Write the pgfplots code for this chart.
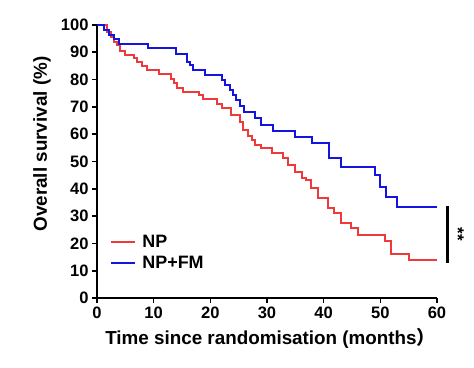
\documentclass[border=0pt]{standalone}
\usepackage{fontspec}
\setmainfont{Liberation Sans}
\newfontfamily\cjk{Noto Sans CJK SC}
\usepackage{pgfplots}
\pgfplotsset{compat=1.18}
\usepackage{pgfplotstable}
\definecolor{npred}{RGB}{238,58,58}
\definecolor{npblue}{RGB}{20,20,225}

\pgfplotstableread{
t s
0 100
1.7 97.6
2.4 95.7
3.0 93.9
3.6 92.5
4.1 90.5
5.0 89.0
6.5 88.0
7.1 86.6
8.0 84.8
8.9 83.5
10.9 82.2
13.0 80.4
13.5 78.6
14.2 76.8
15.1 75.6
18.0 74.4
18.7 72.8
21.1 71.2
22.0 69.5
23.7 67.0
25.2 64.3
25.8 61.5
26.7 59.3
27.3 57.9
27.9 56.1
28.9 54.8
30.8 53.2
32.8 51.2
33.7 48.7
34.9 46.3
36.1 44.0
36.8 43.3
37.8 40.2
39.0 36.6
40.7 33.0
41.8 31.0
43.0 27.4
44.8 25.6
46.0 23.0
50.9 21.0
51.9 16.0
55.0 13.8
60.0 13.8
}\npdata

\pgfplotstableread{
t s
0 100
1.2 98.2
2.1 96.5
3.0 94.8
3.9 93.1
9.0 91.4
14.0 89.2
15.8 86.5
16.4 85.3
17.0 83.5
19.0 81.6
22.0 79.8
22.6 78.0
23.4 76.2
24.0 74.4
24.6 72.5
25.2 70.2
26.0 68.2
27.9 65.8
28.9 63.4
31.0 61.0
35.0 59.1
38.0 56.6
41.0 51.2
43.0 48.1
49.0 45.0
49.9 40.8
51.0 37.1
53.0 33.2
60.0 33.2
}\fmdata

\begin{document}
\begin{tikzpicture}
\begin{axis}[
  scale only axis, width=340bp, height=273bp,
  xmin=0, xmax=60, ymin=0, ymax=100,
  axis x line*=bottom, axis y line*=left,
  axis line style={line width=1.8bp,-},
  xtick={0,10,...,60}, ytick={0,10,...,100},
  tick align=outside, major tick length=5bp,
  tick style={line width=1.6bp,black},
  /pgf/number format/assume math mode=true,
  ticklabel style={font=\bfseries\fontsize{16.6}{19}\selectfont},
  xlabel={Time since randomisation (months{\cjk\bfseries ）}},
  ylabel={Overall survival (\%)},
  label style={font=\bfseries\fontsize{18.9}{22}\selectfont},
  xlabel style={at={(rel axis cs:0.51,-0.172)}, anchor=base},
  ylabel style={at={(rel axis cs:-0.162,0.564)}, anchor=center},
  clip=false,
  legend style={at={(rel axis cs:0.03,0.244)}, anchor=north west, draw=none, fill=none,
    font=\bfseries\fontsize{18}{21}\selectfont, row sep=3bp,
    /tikz/every odd column/.style={column sep=4bp}},
  legend cell align=left,
  legend image code/.code={\draw[#1] (0bp,0bp) -- (24bp,0bp);},
]
\addplot[const plot, color=npred, line width=2bp] table[x=t,y=s] {\npdata};
\addlegendentry{NP}
\addplot[const plot, color=npblue, line width=2bp] table[x=t,y=s] {\fmdata};
\addlegendentry{NP+FM}
\draw[line width=2.6bp] (axis cs:61.8,33.7) -- (axis cs:61.8,12.8);
\node[rotate=-90, font=\bfseries\fontsize{17}{20}\selectfont] at (axis cs:63.7,23.3) {**};
\end{axis}
\pgfresetboundingbox
\path[use as bounding box] (-97bp,-70bp) rectangle (377bp,298bp);
\end{tikzpicture}
\end{document}
